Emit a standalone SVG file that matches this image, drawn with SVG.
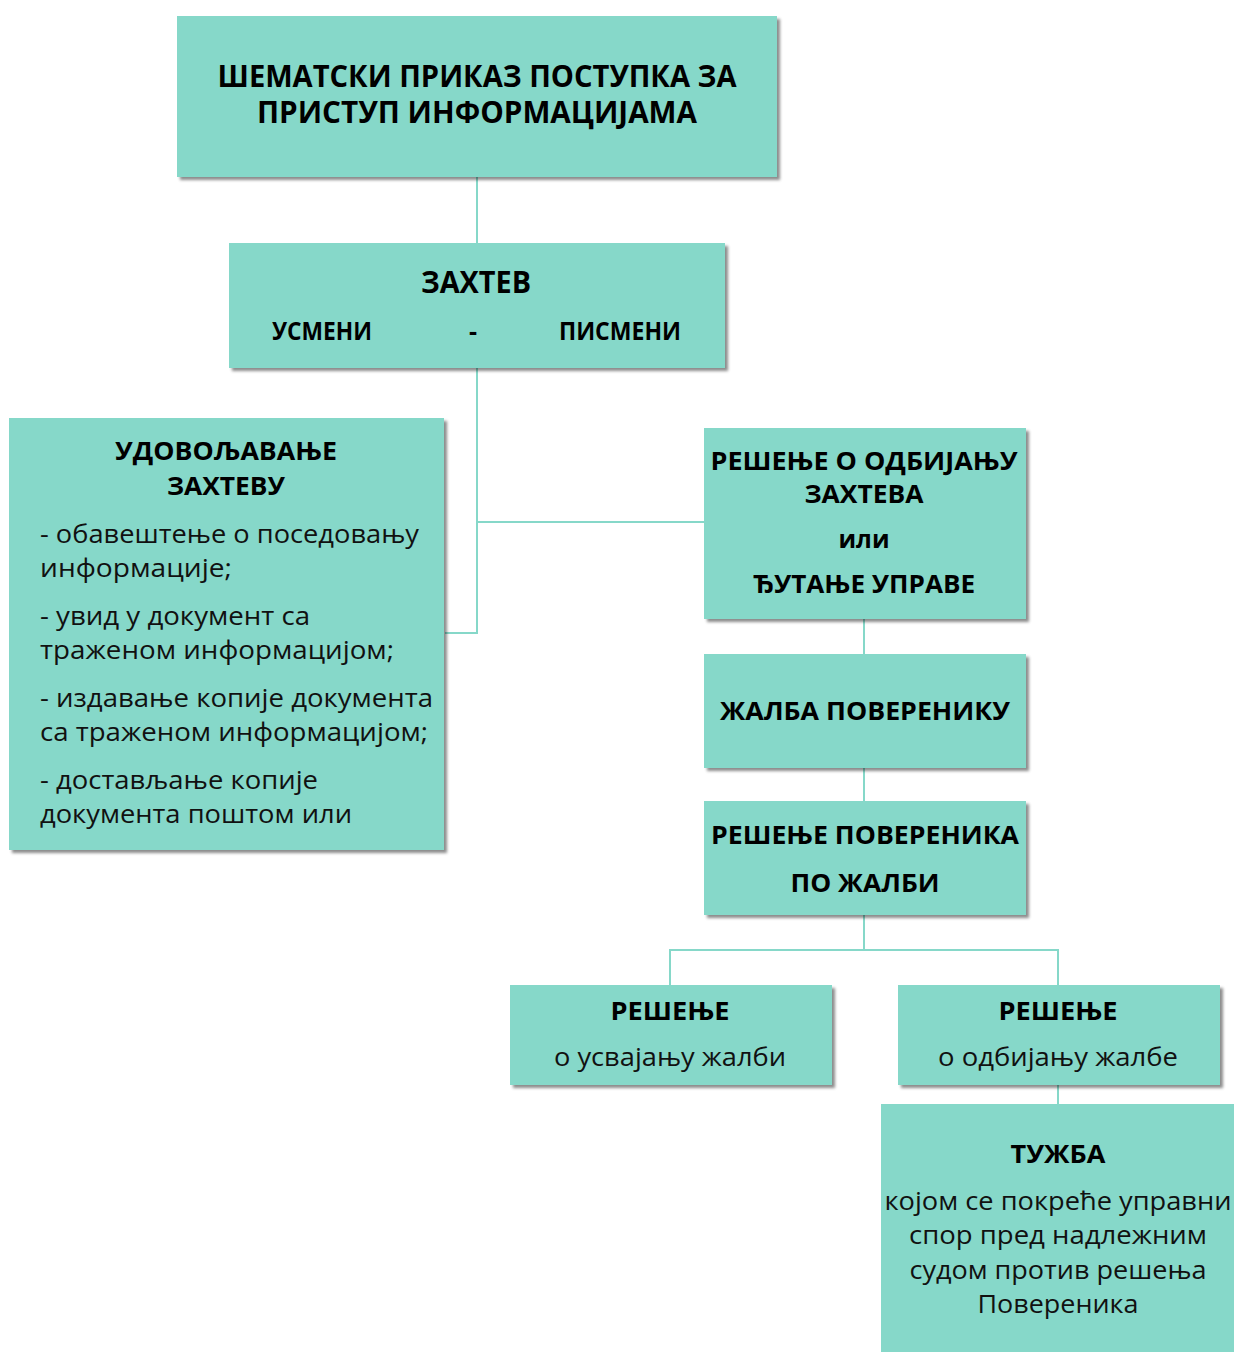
<svg xmlns="http://www.w3.org/2000/svg" width="1234" height="1352" viewBox="0 0 1234 1352">
<defs>
<filter id="sh" x="-5%" y="-5%" width="115%" height="120%">
<feDropShadow dx="3" dy="3" stdDeviation="1.8" flood-color="#000" flood-opacity="0.45"/>
</filter>
<style>
.box{fill:#86D8C9;filter:url(#sh);}
.b{font-family:"Open Sans","Noto Sans","DejaVu Sans",sans-serif;font-weight:bold;fill:#000;text-anchor:middle;}
.r{font-family:"Open Sans","Noto Sans","DejaVu Sans",sans-serif;fill:#111;}
.c{text-anchor:middle;}
.ln{stroke:#86D8C9;stroke-width:2;fill:none;}
</style>
</defs>
<rect width="1234" height="1352" fill="#fff"/>
<g id="connectors">
<path class="ln" d="M477 177V243"/>
<path class="ln" d="M477 368V633H445"/>
<path class="ln" d="M477 522H704"/>
<path class="ln" d="M864 619V654"/>
<path class="ln" d="M864 768V801"/>
<path class="ln" d="M864 915V950M670 985V950H1058V985"/>
<path class="ln" d="M1058 1085V1104"/>
</g>
<g id="title">
<rect class="box" x="177" y="16" width="600" height="161"/>
<text class="b" x="477" y="87" font-size="29.5" textLength="519" lengthAdjust="spacingAndGlyphs">ШЕМАТСКИ ПРИКАЗ ПОСТУПКА ЗА</text>
<text class="b" x="477" y="123" font-size="29.5" textLength="440" lengthAdjust="spacingAndGlyphs">ПРИСТУП ИНФОРМАЦИЈАМА</text>
</g>
<g id="zahtev">
<rect class="box" x="229" y="243" width="496" height="125"/>
<text class="b" x="476" y="293" font-size="30" textLength="110" lengthAdjust="spacingAndGlyphs">ЗАХТЕВ</text>
<text class="b" x="322" y="340" font-size="25" textLength="100" lengthAdjust="spacingAndGlyphs">УСМЕНИ</text>
<text class="b" x="473" y="340" font-size="25">-</text>
<text class="b" x="620" y="340" font-size="25" textLength="122" lengthAdjust="spacingAndGlyphs">ПИСМЕНИ</text>
</g>
<g id="udovoljavanje">
<rect class="box" x="9" y="418" width="435" height="432"/>
<text class="b" x="226" y="460" font-size="25" textLength="222" lengthAdjust="spacingAndGlyphs">УДОВОЉАВАЊЕ</text>
<text class="b" x="226" y="495" font-size="25" textLength="118" lengthAdjust="spacingAndGlyphs">ЗАХТЕВУ</text>
<text class="r" x="40" y="543" font-size="25" textLength="379" lengthAdjust="spacingAndGlyphs">- обавештење о поседовању</text>
<text class="r" x="40" y="577" font-size="25" textLength="192" lengthAdjust="spacingAndGlyphs">информације;</text>
<text class="r" x="40" y="625" font-size="25" textLength="270" lengthAdjust="spacingAndGlyphs">- увид у документ са</text>
<text class="r" x="40" y="659" font-size="25" textLength="354" lengthAdjust="spacingAndGlyphs">траженом информацијом;</text>
<text class="r" x="40" y="707" font-size="25" textLength="393" lengthAdjust="spacingAndGlyphs">- издавање копије документа</text>
<text class="r" x="40" y="741" font-size="25" textLength="388" lengthAdjust="spacingAndGlyphs">са траженом информацијом;</text>
<text class="r" x="40" y="789" font-size="25" textLength="278" lengthAdjust="spacingAndGlyphs">- достављање копије</text>
<text class="r" x="40" y="823" font-size="25" textLength="312" lengthAdjust="spacingAndGlyphs">документа поштом или</text>
</g>
<g id="odbijanje">
<rect class="box" x="704" y="428" width="322" height="191"/>
<text class="b" x="864" y="470" font-size="25" textLength="307" lengthAdjust="spacingAndGlyphs">РЕШЕЊЕ О ОДБИЈАЊУ</text>
<text class="b" x="864" y="503" font-size="25" textLength="119" lengthAdjust="spacingAndGlyphs">ЗАХТЕВА</text>
<text class="b" x="864" y="548" font-size="25" textLength="51" lengthAdjust="spacingAndGlyphs">или</text>
<text class="b" x="864" y="593" font-size="25" textLength="222" lengthAdjust="spacingAndGlyphs">ЂУТАЊЕ УПРАВЕ</text>
</g>
<g id="zalba">
<rect class="box" x="704" y="654" width="322" height="114"/>
<text class="b" x="865" y="720" font-size="25" textLength="290" lengthAdjust="spacingAndGlyphs">ЖАЛБА ПОВЕРЕНИКУ</text>
</g>
<g id="resenje-poverenika">
<rect class="box" x="704" y="801" width="322" height="114"/>
<text class="b" x="865" y="844" font-size="25" textLength="308" lengthAdjust="spacingAndGlyphs">РЕШЕЊЕ ПОВЕРЕНИКА</text>
<text class="b" x="865" y="892" font-size="25" textLength="149" lengthAdjust="spacingAndGlyphs">ПО ЖАЛБИ</text>
</g>
<g id="usvajanje">
<rect class="box" x="510" y="985" width="322" height="100"/>
<text class="b" x="670" y="1020" font-size="25" textLength="119" lengthAdjust="spacingAndGlyphs">РЕШЕЊЕ</text>
<text class="r c" x="670" y="1066" font-size="25" textLength="232" lengthAdjust="spacingAndGlyphs">о усвајању жалби</text>
</g>
<g id="odbijanje-zalbe">
<rect class="box" x="898" y="985" width="322" height="100"/>
<text class="b" x="1058" y="1020" font-size="25" textLength="119" lengthAdjust="spacingAndGlyphs">РЕШЕЊЕ</text>
<text class="r c" x="1058" y="1066" font-size="25" textLength="240" lengthAdjust="spacingAndGlyphs">о одбијању жалбе</text>
</g>
<g id="tuzba">
<rect class="box" x="881" y="1104" width="360" height="260"/>
<text class="b" x="1058" y="1163" font-size="25" textLength="95" lengthAdjust="spacingAndGlyphs">ТУЖБА</text>
<text class="r c" x="1058" y="1210" font-size="25" textLength="347" lengthAdjust="spacingAndGlyphs">којом се покреће управни</text>
<text class="r c" x="1058" y="1244" font-size="25" textLength="298" lengthAdjust="spacingAndGlyphs">спор пред надлежним</text>
<text class="r c" x="1058" y="1279" font-size="25" textLength="297" lengthAdjust="spacingAndGlyphs">судом против решења</text>
<text class="r c" x="1058" y="1313" font-size="25" textLength="161" lengthAdjust="spacingAndGlyphs">Повереника</text>
</g>
</svg>
